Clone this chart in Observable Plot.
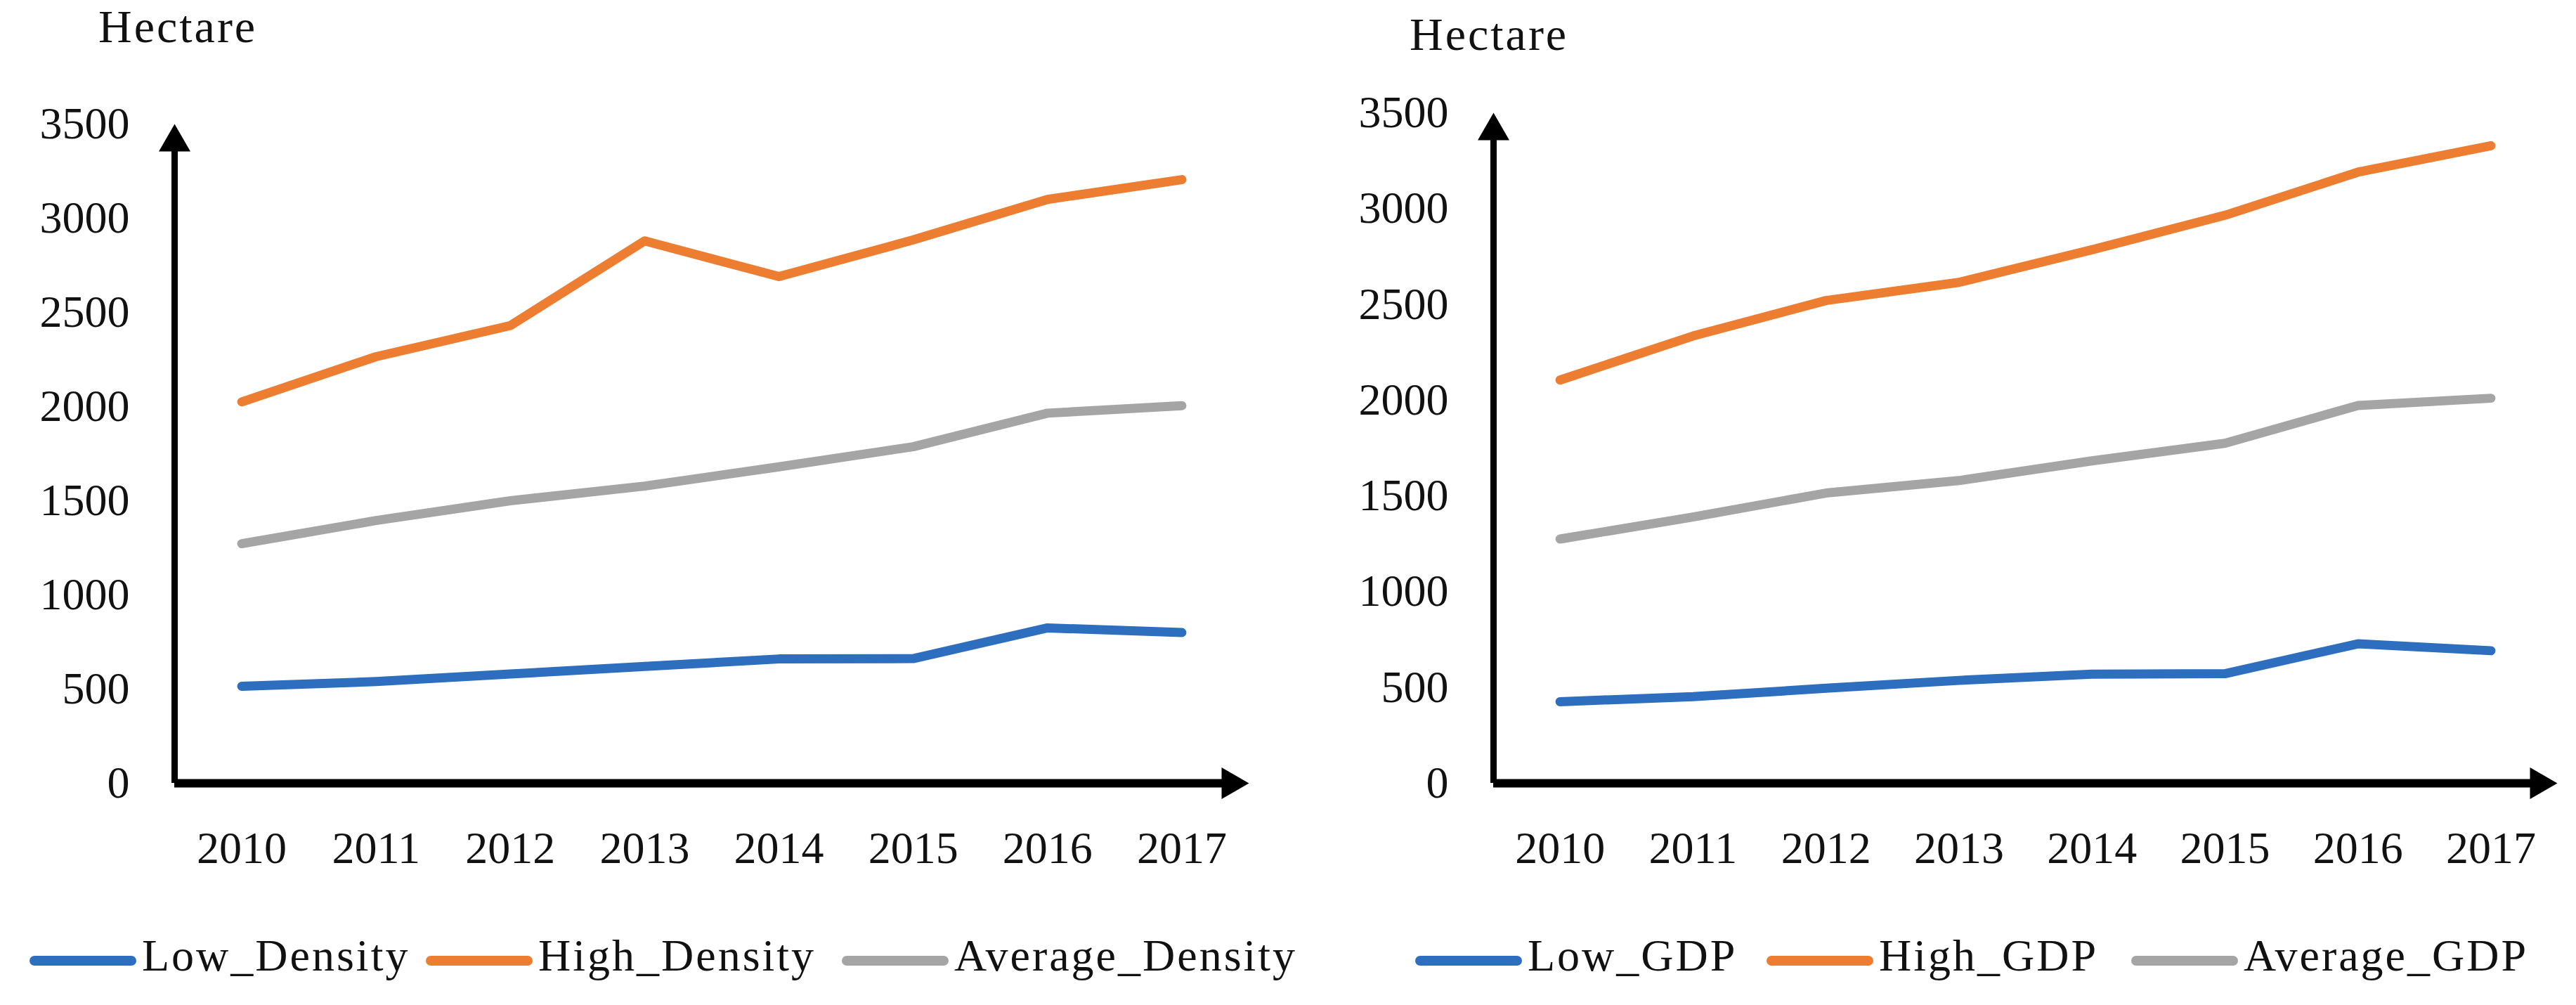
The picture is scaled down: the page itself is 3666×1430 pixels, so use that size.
<!DOCTYPE html>
<html><head><meta charset="utf-8">
<script src="https://cdn.jsdelivr.net/npm/d3@7"></script>
<script src="https://cdn.jsdelivr.net/npm/@observablehq/plot@0.6"></script>
<style>
body{margin:0;background:#fff;}
#root{position:relative;width:3666px;height:1430px;overflow:hidden;font-family:"Liberation Serif",serif;color:#111;background:#fff;}
.panel{position:absolute;top:0;}
.ylab{position:absolute;font-size:66px;line-height:66px;letter-spacing:3px;white-space:nowrap;}
.leg{position:absolute;top:1328px;height:64px;font-size:64px;line-height:64px;letter-spacing:3px;white-space:nowrap;}
.sw{position:absolute;top:32px;height:14px;border-radius:7px;}
.lt{position:absolute;top:0;}
</style></head><body><div id="root"></div>
<script>
// ---- data ----
const years = [2010, 2011, 2012, 2013, 2014, 2015, 2016, 2017];
const yTicks = [0, 500, 1000, 1500, 2000, 2500, 3000, 3500];
const yUnit = "Hectare";

const densitySeries = ["Low_Density", "High_Density", "Average_Density"];
const lowDensity  = [515, 540, 580, 620, 660, 662, 825, 800];
const highDensity = [2025, 2265, 2430, 2880, 2690, 2885, 3100, 3205];
const avgDensity  = [1272, 1395, 1500, 1578, 1680, 1787, 1965, 2005];

const gdpSeries = ["Low_GDP", "High_GDP", "Average_GDP"];
const lowGDP  = [426, 452, 496, 537, 570, 572, 728, 692];
const highGDP = [2105, 2335, 2520, 2615, 2785, 2965, 3190, 3328];
const avgGDP  = [1275, 1390, 1515, 1580, 1683, 1775, 1972, 2010];

const colors = ["#2E6EBE", "#ED7D31", "#A5A5A5"];

// ---- helpers ----
const root = document.getElementById("root");

const rightTriangle = {
  draw(ctx, size) {
    const y = Math.sqrt(size / (Math.sqrt(3) * 3));
    ctx.moveTo(2 * y, 0);
    ctx.lineTo(-y, -Math.sqrt(3) * y);
    ctx.lineTo(-y, Math.sqrt(3) * y);
    ctx.closePath();
  }
};

function makePanel(names, valueArrays, cfg) {
  const rows = [];
  names.forEach((name, s) => {
    years.forEach((yr, i) => rows.push({series: name, year: yr, value: valueArrays[s][i]}));
  });
  const xMin = d3.min(years) - 0.5, xMax = d3.max(years) + 0.5;
  const yMax = d3.max(yTicks);
  const chart = Plot.plot({
    width: 1833,
    height: 1300,
    marginLeft: cfg.marginLeft,
    marginRight: cfg.marginRight,
    marginTop: cfg.marginTop,
    marginBottom: 186,
    style: {fontFamily: "Liberation Serif", fontSize: "64px", color: "#111", background: "transparent"},
    x: {type: "linear", domain: [xMin, xMax], label: null},
    y: {domain: [0, yMax], label: null},
    color: {domain: names, range: colors},
    marks: [
      Plot.axisY({ticks: yTicks, tickSize: 0, tickPadding: 64, tickFormat: d => String(d), label: null}),
      Plot.axisX({ticks: years, tickSize: 0, tickPadding: 68, tickFormat: d => String(d), label: null}),
      Plot.line(rows, {x: "year", y: "value", z: "series", stroke: "series", strokeWidth: 13,
        strokeLinejoin: "round", strokeLinecap: "round"}),
      Plot.ruleX([xMin], {stroke: "#000", strokeWidth: 9, insetTop: 20}),
      Plot.ruleY([0], {stroke: "#000", strokeWidth: 12, insetRight: 20}),
      Plot.dot([{x: xMin, y: yMax}], {x: "x", y: "y", symbol: "triangle", r: 16.7, fill: "#000", stroke: "none", dy: 26}),
      Plot.dot([{x: xMax, y: 0}], {x: "x", y: "y", symbol: rightTriangle, r: 16.7, fill: "#000", stroke: "none", dx: -26})
    ]
  });
  const wrap = document.createElement("div");
  wrap.className = "panel";
  wrap.style.left = cfg.left + "px";
  wrap.appendChild(chart);
  root.appendChild(wrap);

  const lab = document.createElement("div");
  lab.className = "ylab";
  lab.textContent = yUnit;
  lab.style.left = cfg.labelX + "px";
  lab.style.top = cfg.labelTop + "px";
  root.appendChild(lab);

  names.forEach((name, s) => {
    const item = document.createElement("div");
    item.className = "leg";
    item.style.left = cfg.legendX[s] + "px";
    const sw = document.createElement("span");
    sw.className = "sw";
    sw.style.left = "0px";
    sw.style.width = "152px";
    sw.style.background = colors[s];
    const t = document.createElement("span");
    t.className = "lt";
    t.style.left = "160px";
    t.textContent = name;
    item.appendChild(sw);
    item.appendChild(t);
    root.appendChild(item);
  });
}

makePanel(densitySeries, [lowDensity, highDensity, avgDensity], {
  left: 0, marginLeft: 248, marginRight: 56, marginTop: 176,
  labelX: 140, labelTop: 5, legendX: [42, 606, 1198]
});
makePanel(gdpSeries, [lowGDP, highGDP, avgGDP], {
  left: 1833, marginLeft: 292, marginRight: 27, marginTop: 160,
  labelX: 2006, labelTop: 16, legendX: [2014, 2514, 3033]
});
</script>
</body></html>
